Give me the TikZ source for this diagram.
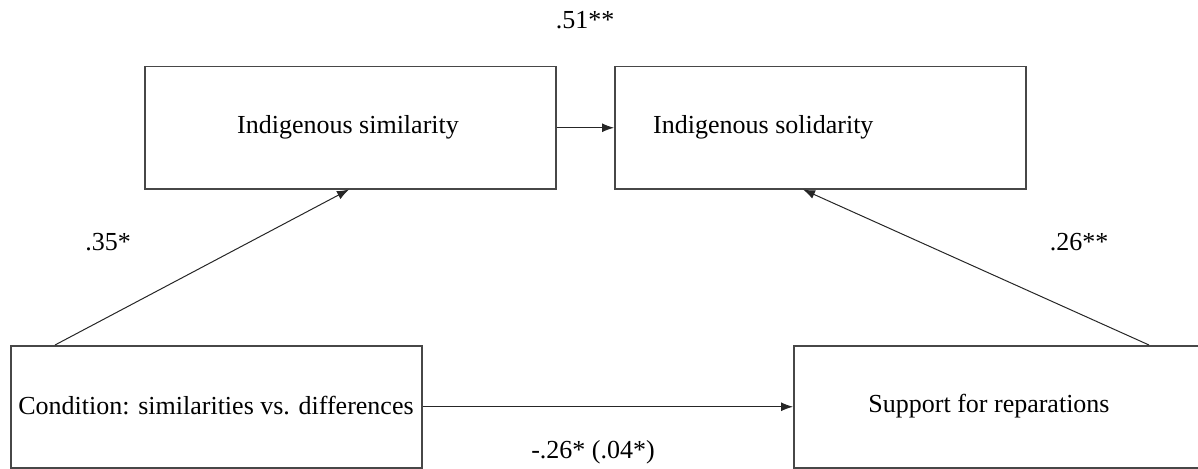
\documentclass[tikz,border=0pt]{standalone}
\usepackage{fontspec}
\setmainfont{Liberation Serif}
\usetikzlibrary{arrows.meta,calc}
\begin{document}
\begin{tikzpicture}[x=1pt,y=-1pt,
  box/.style={draw=black!72, line width=1.5pt, inner sep=0pt, minimum width=411pt, minimum height=122pt, anchor=north west},
  conn/.style={-{Latex[length=12pt,width=9pt]}, line width=1pt, draw=black!85},
  txt/.style={font=\fontsize{26}{30}\selectfont, inner sep=0pt}]
\useasboundingbox (0,0) rectangle (1198,468);
\node[box] (A) at (144,66) {};
\node[box] (B) at (614,66) {};
\node[box] (C) at (10,345) {};
\node[box] (D) at (793,345) {};
\node[txt] (tA) at (348,127) {Indigenous similarity};
\node[txt, anchor=west] (tB) at (653,127) {Indigenous solidarity};
\node[txt] (tC) at (216,406) {Condition: similarities vs. differences};
\node[txt] (tD) at (989,406) {Support for reparations};
\draw[conn] (A.east) -- (B.west);
\draw[conn] ([xshift=45pt]C.north west) -- ([xshift=205pt]A.south west);
\draw[conn] ([xshift=356pt]D.north west) -- ([xshift=189pt]B.south west);
\draw[conn] (C.east) -- (D.west);
\node[txt] (l1) at (585,20) {.51**};
\node[txt] (l2) at (108,242) {.35*};
\node[txt] (l3) at (1079,242) {.26**};
\node[txt] (l4) at (593,452) {-.26* (.04*)};
\end{tikzpicture}
\end{document}
